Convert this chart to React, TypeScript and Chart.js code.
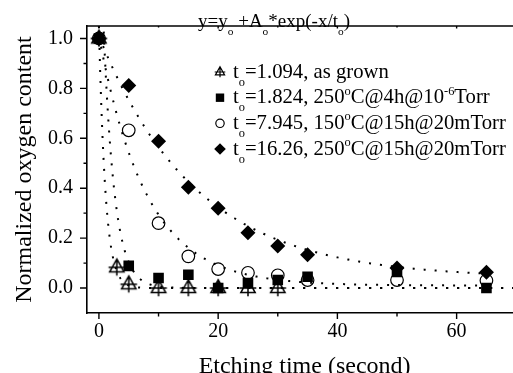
import React, { useEffect, useRef } from 'react';
import { Chart, registerables } from 'chart.js';
Chart.register(...registerables);

// ---- data ----
const xAsGrown = [0, 3, 5, 10, 15, 20, 25, 30];
const yAsGrown = [1.0, 0.083, 0.015, 0.0, 0.0, 0.0, 0.0, 0.0];
const xAnneal = [0, 5, 10, 15, 20, 25, 30, 35, 50, 65];
const y250_4h = [1.0, 0.089, 0.04, 0.053, 0.0, 0.02, 0.032, 0.045, 0.064, 0.0];
const y150_15h = [1.0, 0.632, 0.26, 0.127, 0.076, 0.061, 0.051, 0.032, 0.032, 0.03];
const y250_15h = [1.0, 0.812, 0.588, 0.404, 0.32, 0.222, 0.168, 0.133, 0.08, 0.063];

// exponential decay fit parameters y = y0 + A*exp(-x/t0)
const fitT0 = [1.094, 1.824, 7.945, 16.26];
const fitY0 = [0.0, 0.0, 0.01, 0.04];
const fitA = [1.05, 1.6, 1.0, 0.97];
const fitXEnd = [71, 71, 65, 65];

const xTicks = [0, 20, 40, 60];
const xMinorTicks = [10, 30, 50, 70];
const yTicks = [0, 0.2, 0.4, 0.6, 0.8, 1.0];
const yMinorTicks = [0.1, 0.3, 0.5, 0.7, 0.9];

const formulaText: [string, number][] = [['y=y', 0], ['o', 1], [' +A', 0], ['o', 1], ['*exp(-x/t', 0], ['o', 1], [')', 0]];
const legendTexts: [string, number][][] = [
  [['t', 0], ['o', 1], ['=1.094, as grown', 0]],
  [['t', 0], ['o', 1], ['=1.824, 250', 0], ['o', 2], ['C@4h@10', 0], ['-6', 2], ['Torr', 0]],
  [['t', 0], ['o', 1], ['=7.945, 150', 0], ['o', 2], ['C@15h@20mTorr', 0]],
  [['t', 0], ['o', 1], ['=16.26, 250', 0], ['o', 2], ['C@15h@20mTorr', 0]],
];

const FONT = "'Liberation Serif', 'Times New Roman', serif";
const W = 540;
const H = 373;

function drawTri(ctx: CanvasRenderingContext2D, cx: number, cy: number, r: number) {
  ctx.beginPath();
  ctx.moveTo(cx, cy - r);
  ctx.lineTo(cx + 0.866 * r, cy + 0.55 * r);
  ctx.lineTo(cx - 0.866 * r, cy + 0.55 * r);
  ctx.closePath();
  ctx.moveTo(cx - r, cy);
  ctx.lineTo(cx + r, cy);
  ctx.moveTo(cx, cy - r);
  ctx.lineTo(cx, cy + r);
  ctx.stroke();
}

function makeTriImage(r: number) {
  const c = document.createElement('canvas');
  const s = Math.ceil(r + 2) * 2;
  c.width = s;
  c.height = s;
  const g = c.getContext('2d')!;
  g.strokeStyle = '#000';
  g.lineWidth = 1.5;
  drawTri(g, s / 2, s / 2, r);
  return c;
}

function drawRich(ctx: CanvasRenderingContext2D, segs: [string, number][], x: number, y: number, size: number) {
  let cx = x;
  ctx.textBaseline = 'alphabetic';
  ctx.textAlign = 'left';
  for (const [t, k] of segs) {
    const fs = k === 0 ? size : size * 0.6;
    ctx.font = `${fs}px ${FONT}`;
    const dy = k === 1 ? size * 0.4 : k === 2 ? -size * 0.42 : 0;
    ctx.fillText(t, cx, y + dy);
    cx += ctx.measureText(t).width;
  }
}

const decorPlugin = {
  id: 'decor',
  afterDraw(chart: any) {
    const ctx: CanvasRenderingContext2D = chart.ctx;
    const xs = chart.scales.x;
    const ys = chart.scales.y;
    const area = chart.chartArea;
    ctx.save();
    ctx.strokeStyle = '#000';
    ctx.fillStyle = '#000';
    ctx.lineWidth = 1.6;
    // top border
    ctx.beginPath();
    ctx.moveTo(area.left, area.top);
    ctx.lineTo(area.right, area.top);
    ctx.stroke();
    ctx.lineWidth = 1.4;
    ctx.beginPath();
    for (const v of yTicks) {
      const p = ys.getPixelForValue(v);
      ctx.moveTo(area.left - 7, p);
      ctx.lineTo(area.left, p);
    }
    for (const v of yMinorTicks) {
      const p = ys.getPixelForValue(v);
      ctx.moveTo(area.left - 3.5, p);
      ctx.lineTo(area.left, p);
    }
    for (const v of xTicks) {
      const p = xs.getPixelForValue(v);
      ctx.moveTo(p, area.bottom);
      ctx.lineTo(p, area.bottom + 6);
      ctx.moveTo(p, area.top);
      ctx.lineTo(p, area.top + 2.5);
    }
    for (const v of xMinorTicks) {
      const p = xs.getPixelForValue(v);
      ctx.moveTo(p, area.bottom);
      ctx.lineTo(p, area.bottom + 3.5);
      ctx.moveTo(p, area.top);
      ctx.lineTo(p, area.top + 1.5);
    }
    ctx.stroke();

    // formula
    drawRich(ctx, formulaText, 198, 27, 19);
    // legend
    const rows = [72, 97.7, 123.3, 149];
    const sx = 220;
    ctx.lineWidth = 1.2;
    drawTri(ctx, sx, rows[0], 5.3);
    ctx.fillRect(sx - 4.2, rows[1] - 4.2, 8.4, 8.4);
    ctx.beginPath();
    ctx.arc(sx, rows[2], 4.2, 0, Math.PI * 2);
    ctx.stroke();
    ctx.beginPath();
    ctx.moveTo(sx, rows[3] - 5.8);
    ctx.lineTo(sx + 5.8, rows[3]);
    ctx.lineTo(sx, rows[3] + 5.8);
    ctx.lineTo(sx - 5.8, rows[3]);
    ctx.closePath();
    ctx.fill();
    legendTexts.forEach((segs, i) => drawRich(ctx, segs, 233, rows[i] + 5.5, 20.7));
    ctx.restore();
  },
};

function fitPoints(i: number) {
  const pts: { x: number; y: number }[] = [];
  for (let x = 0; x <= fitXEnd[i] + 1e-9; x += 0.2) {
    pts.push({ x, y: fitY0[i] + fitA[i] * Math.exp(-x / fitT0[i]) });
  }
  return pts;
}

export default function App() {
  const ref = useRef<HTMLCanvasElement>(null);
  useEffect(() => {
    if (!ref.current) return;
    const toXY = (xs: number[], ys: number[]) => xs.map((x, i) => ({ x, y: ys[i] }));
    const triImg = makeTriImage(8.3);
    const fits = fitT0.map((_, i) => ({
      type: 'line' as const,
      label: 'fit ' + i,
      data: fitPoints(i),
      borderColor: '#000',
      borderWidth: 2,
      borderDash: [2, 9],
      pointRadius: 0,
      fill: false,
      tension: 0,
      order: 10 + i,
    }));
    const chart = new Chart(ref.current, {
      type: 'scatter',
      data: {
        datasets: [
          {
            label: 'as grown',
            data: toXY(xAsGrown, yAsGrown),
            pointStyle: triImg as any,
            pointRadius: 8,
            order: 4,
          },
          {
            label: '150C 15h 20mTorr',
            data: toXY(xAnneal, y150_15h),
            pointStyle: 'circle',
            pointRadius: 6.3,
            borderColor: '#000',
            borderWidth: 1.2,
            backgroundColor: 'rgba(0,0,0,0)',
            order: 3,
          },
          {
            label: '250C 4h 1e-6Torr',
            data: toXY(xAnneal, y250_4h),
            pointStyle: 'rect',
            pointRadius: 7.5,
            borderColor: '#000',
            borderWidth: 0,
            backgroundColor: '#000',
            order: 2,
          },
          {
            label: '250C 15h 20mTorr',
            data: toXY(xAnneal, y250_15h),
            pointStyle: 'rectRot',
            pointRadius: 7.5,
            borderColor: '#000',
            borderWidth: 0,
            backgroundColor: '#000',
            order: 1,
          },
          ...fits,
        ] as any,
      },
      options: {
        animation: false,
        responsive: false,
        layout: { padding: { left: 0, top: 11, right: W - 522.2, bottom: 0 } },
        plugins: { legend: { display: false }, tooltip: { enabled: false } },
        scales: {
          x: {
            type: 'linear',
            min: -2,
            max: 71,
            afterFit: (s: any) => {
              s.height = 60;
            },
            afterBuildTicks: (s: any) => {
              s.ticks = xTicks.map((v) => ({ value: v }));
            },
            grid: { display: false, drawTicks: false },
            border: { display: true, color: '#000', width: 1.6 },
            ticks: {
              font: { family: FONT, size: 20 },
              color: '#000',
              padding: 7,
              maxRotation: 0,
              autoSkip: false,
            },
            title: {
              display: true,
              text: 'Etching time (second)',
              font: { family: FONT, size: 24 },
              color: '#000',
              padding: { top: 0, bottom: -8 },
            },
          },
          y: {
            type: 'linear',
            min: -0.1,
            max: 1.05,
            afterFit: (s: any) => {
              s.width = 87;
            },
            afterBuildTicks: (s: any) => {
              s.ticks = yTicks.map((v) => ({ value: v }));
            },
            grid: { display: false, drawTicks: false },
            border: { display: true, color: '#000', width: 1.6 },
            ticks: {
              font: { family: FONT, size: 20 },
              color: '#000',
              padding: 14,
              callback: (v: any) => Number(v).toFixed(1),
            },
            title: {
              display: true,
              text: 'Normalized oxygen content',
              font: { family: FONT, size: 24 },
              color: '#000',
              padding: { top: 10.6, bottom: 0 },
            },
          },
        },
      },
      plugins: [decorPlugin],
    });
    return () => chart.destroy();
  }, []);
  return (
    <div style={{ position: 'fixed', left: 0, top: 0, width: 513, height: 373, overflow: 'hidden', background: '#fff' }}>
      <canvas ref={ref} width={W} height={H} style={{ width: W, height: H, display: 'block' }} />
    </div>
  );
}
